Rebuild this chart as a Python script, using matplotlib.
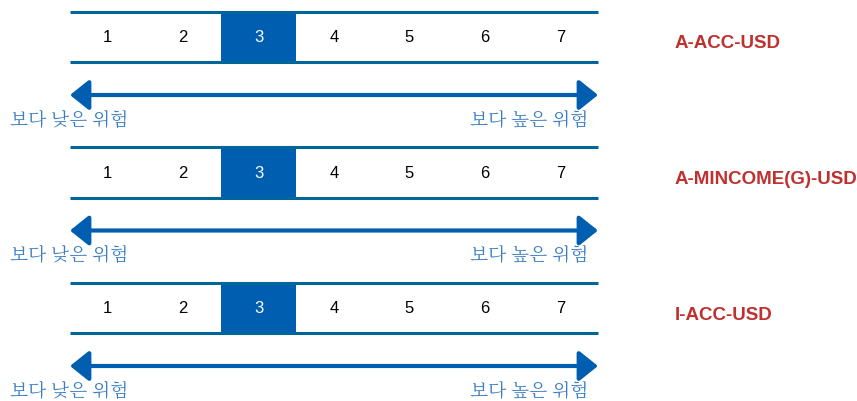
import matplotlib
matplotlib.use("Agg")
import matplotlib.pyplot as plt
from matplotlib.patches import Rectangle, FancyArrowPatch

plt.rcParams['font.family'] = ['Liberation Sans', 'DejaVu Sans']

# data
share_classes = ['A-ACC-USD', 'A-MINCOME(G)-USD', 'I-ACC-USD']
risk_levels = [3, 3, 3]
scale = [1, 2, 3, 4, 5, 6, 7]
low_label = '보다 낮은 위험'
high_label = '보다 높은 위험'

W, H = 857, 401
fig = plt.figure(figsize=(W / 100, H / 100), dpi=100)
ax = fig.add_axes([0, 0, 1, 1])
ax.set_xlim(0, W)
ax.set_ylim(H, 0)
ax.axis('off')

line_c = '#00669A'
fill_c = '#005EB0'
kor_c = '#3A7DC2'
red_c = '#C0302E'
kor_font = ['Noto Serif CJK KR', 'Noto Sans CJK KR', 'DejaVu Sans']

x0, x1 = 70, 598
cw = (x1 - x0) / len(scale)
block_gap = 135.5

for i, (name, lvl) in enumerate(zip(share_classes, risk_levels)):
    top = 11.5 + i * block_gap
    bot = top + 50.5
    mid = (top + bot) / 2
    # highlighted box
    ax.add_patch(Rectangle((x0 + (lvl - 1) * cw, top), cw, bot - top,
                           facecolor=fill_c, edgecolor='none'))
    ax.plot([x0, x1], [top, top], color=line_c, lw=2.2, solid_capstyle='butt')
    ax.plot([x0, x1], [bot, bot], color=line_c, lw=2.2, solid_capstyle='butt')
    for k, v in enumerate(scale):
        ax.text(x0 + (k + 0.5) * cw, mid + 1, str(v), ha='center', va='center',
                fontsize=12, color='white' if v == lvl else 'black')
    ax.text(675, top + 32.5, name, ha='left', va='center', fontsize=13.5,
            fontweight='bold', color=red_c)
    # arrow
    ay = top + 83.5
    ax.add_patch(FancyArrowPatch((x0, ay), (x1, ay),
                                 arrowstyle='<|-|>,head_length=1.0,head_width=0.8',
                                 mutation_scale=11.5, lw=3, color=fill_c,
                                 shrinkA=0, shrinkB=0))
    ty = top + 108.5
    ax.text(10, ty, low_label, ha='left', va='center', fontsize=13.5,
            color=kor_c, family=kor_font)
    ax.text(588, ty, high_label, ha='right', va='center', fontsize=13.5,
            color=kor_c, family=kor_font)

fig.savefig('out.png', dpi=100)
